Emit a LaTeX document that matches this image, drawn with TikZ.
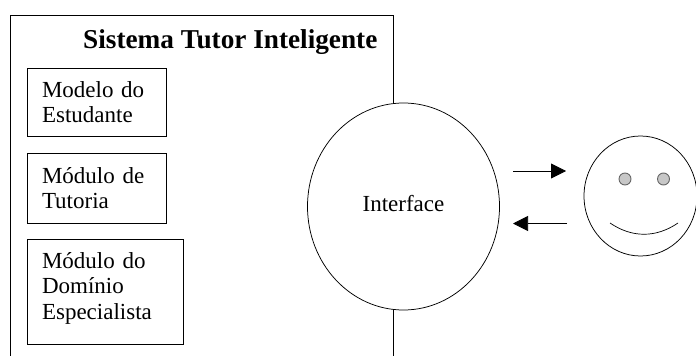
\documentclass[tikz,border=0pt]{standalone}
\usepackage{fontspec}
\setmainfont{Liberation Serif}
\usetikzlibrary{shapes.geometric,arrows.meta}
\tikzset{
  line/.style={draw=black,line width=0.75pt},
  modbox/.style={line,anchor=north west,outer sep=0pt,inner ysep=0pt,inner xsep=14.5pt,align=left,font=\fontsize{23}{25.5}\selectfont},
  round/.style={line,ellipse,inner sep=0pt,outer sep=0pt,fill=white},
  eye/.style={draw=black!60,line width=0.9pt,circle,fill=black!22,minimum size=12pt,inner sep=0pt},
  flow/.style={line,-{Triangle[length=15pt,width=15pt]}}
}
\begin{document}
\begin{tikzpicture}[x=1pt,y=-1pt]
\useasboundingbox (0,0) rectangle (696,356);
\coordinate (bl) at (10.5,356);
\coordinate (tl) at (10.5,15.5);
\coordinate (tr) at (393.5,15.5);
\coordinate (br) at (393.5,356);
\draw[line] (bl) -- (tl) -- (tr) -- (br);
\node[anchor=base west,inner sep=0pt,font=\fontsize{27.25}{30}\selectfont\bfseries] (title) at (83,48) {Sistema Tutor Inteligente};
\node[modbox,text width=110pt,text height=29pt,text depth=39.5pt] (m1) at (27.5,68) {Modelo do\\Estudante};
\node[modbox,text width=110pt,text height=29.5pt,text depth=40.5pt] (m2) at (27.5,153.5) {Módulo de\\Tutoria};
\node[modbox,text width=127pt,text height=28.5pt,text depth=76pt] (m3) at (27.5,239.5) {Módulo do\\Domínio\\Especialista};
\node[round,minimum width=192pt,minimum height=207pt,text depth=6.6pt,font=\fontsize{23}{25}\selectfont] (iface) at (403.5,206.5) {Interface};
\node[round,minimum width=113pt,minimum height=120pt] (face) at (640.5,196) {};
\node[eye] (eyeL) at (625,179) {};
\node[eye] (eyeR) at (663.5,179) {};
\coordinate (s1) at (610,223);
\coordinate (s2) at (678,223);
\draw[line,line width=0.7pt] (s1) .. controls (632,238) and (656,238) .. (s2);
\coordinate (a1) at (513,171);
\coordinate (a2) at (566,171);
\coordinate (b1) at (567,223.5);
\coordinate (b2) at (513,223.5);
\draw[flow] (a1) -- (a2);
\draw[flow] (b1) -- (b2);
\end{tikzpicture}
\end{document}
